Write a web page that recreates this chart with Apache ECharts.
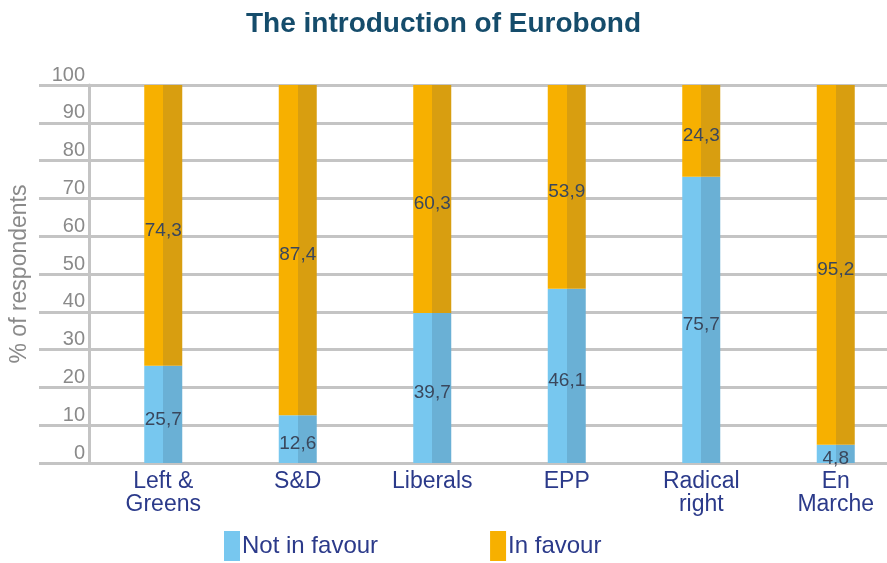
<!DOCTYPE html>
<html>
<head>
<meta charset="utf-8">
<script src="https://cdn.jsdelivr.net/npm/echarts@6/dist/echarts.min.js"></script>
<style>html,body{margin:0;padding:0;background:#fff}#c{width:887px;height:563px}</style>
</head>
<body>
<div id="c"></div>
<script>
var categories = ['Left &\nGreens', 'S&D', 'Liberals', 'EPP', 'Radical\nright', 'En\nMarche'];
var notInFavour = [25.7, 12.6, 39.7, 46.1, 75.7, 4.8];
var inFavour = [74.3, 87.4, 60.3, 53.9, 24.3, 95.2];
var seriesNames = ['Not in favour', 'In favour'];
var yTicks = [0, 10, 20, 30, 40, 50, 60, 70, 80, 90, 100];

var chart = echarts.init(document.getElementById('c'));
function grad(a, b) {
  return {type: 'linear', x: 0, y: 0, x2: 1, y2: 0,
    colorStops: [{offset: 0, color: a}, {offset: 0.5, color: a}, {offset: 0.5, color: b}, {offset: 1, color: b}]};
}
var fmt = function (p) { return String(p.value).replace('.', ','); };
var gridTop = 85, gridBottom = 100;
chart.setOption({
  animation: false,
  title: {text: 'The introduction of Eurobond', left: 'center', top: 5,
    textStyle: {color: '#154C6B', fontSize: 28, fontWeight: 'bold', fontFamily: 'Liberation Sans, Arial'}},
  legend: {left: 224, top: 531, itemWidth: 16, itemHeight: 30, itemGap: 112, padding: 0,
    icon: 'rect',
    textStyle: {color: '#2B3A8A', fontSize: 24, fontFamily: 'Liberation Sans, Arial', padding: [0, 0, 0, -3]},
    data: [{name: seriesNames[0], itemStyle: {color: '#77C7EF'}},
           {name: seriesNames[1], itemStyle: {color: '#F7B000'}}]},
  grid: [
    {left: 39, right: 0, top: gridTop, bottom: gridBottom, outerBoundsMode: 'none'},
    {left: 96, width: 807, top: gridTop, bottom: gridBottom, outerBoundsMode: 'none'}
  ],
  xAxis: [
    {gridIndex: 0, type: 'category', show: false, data: categories},
    {gridIndex: 1, type: 'category', data: categories,
      axisLine: {show: false}, axisTick: {show: false},
      axisLabel: {color: '#2B3A8A', fontSize: 23, lineHeight: 23, margin: 7, interval: 0,
        fontFamily: 'Liberation Sans, Arial'}}
  ],
  yAxis: [
    {gridIndex: 0, type: 'value', min: 0, max: 100, interval: 10, offset: -50,
      name: '% of respondents', nameLocation: 'middle', nameGap: 58,
      nameTextStyle: {color: '#8A8A8A', fontSize: 23, fontFamily: 'Liberation Sans, Arial'},
      axisLine: {show: true, lineStyle: {color: '#C4C4C4', width: 3}},
      axisTick: {show: false},
      axisLabel: {color: '#8A8A8A', fontSize: 20, margin: 4, verticalAlign: 'bottom',
        fontFamily: 'Liberation Sans, Arial',
        formatter: function (v) { return yTicks.indexOf(v) >= 0 ? String(v) : ''; }},
      splitLine: {show: true, lineStyle: {color: '#C4C4C4', width: 3}}},
    {gridIndex: 1, type: 'value', min: 0, max: 100, show: false, splitLine: {show: false}}
  ],
  series: [
    {name: seriesNames[0], type: 'bar', stack: 's', xAxisIndex: 1, yAxisIndex: 1, barWidth: 38,
      data: notInFavour, itemStyle: {color: grad('#77C7EF', '#6AB0D5')},
      label: {show: true, position: 'inside', offset: [0, 5], color: '#3A475C', fontSize: 19,
        fontFamily: 'Liberation Sans, Arial', formatter: fmt}},
    {name: seriesNames[1], type: 'bar', stack: 's', xAxisIndex: 1, yAxisIndex: 1, barWidth: 38,
      data: inFavour, itemStyle: {color: grad('#F7B000', '#D89E10')},
      label: {show: true, position: 'inside', offset: [0, 5], color: '#3A475C', fontSize: 19,
        fontFamily: 'Liberation Sans, Arial', formatter: fmt}}
  ]
});
</script>
</body>
</html>
